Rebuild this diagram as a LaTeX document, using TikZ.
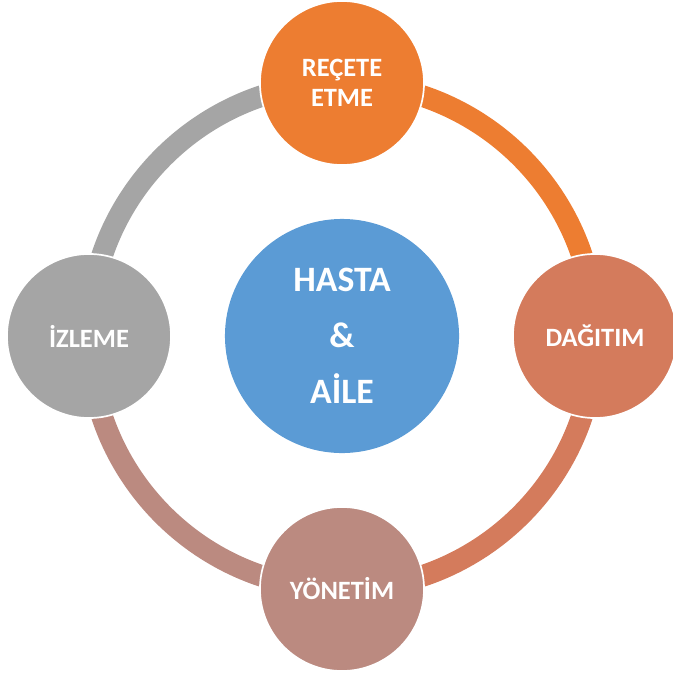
\documentclass[tikz,border=0pt]{standalone}
\usepackage{fontspec}
\setmainfont{Carlito}
\definecolor{hastablue}{HTML}{5B9BD5}
\definecolor{receteorange}{HTML}{ED7D31}
\definecolor{dagitimred}{HTML}{D47B5C}
\definecolor{yonetimrose}{HTML}{BB8A80}
\definecolor{izlemegray}{HTML}{A5A5A5}
\tikzset{
  stage/.style={circle,draw=white,line width=1.2pt,minimum size=4.1cm,inner sep=0pt,
    text=white,font=\bfseries\fontsize{18.8}{21.3}\selectfont,align=center},
  band/.style={line width=0.54cm}
}
\begin{document}
\begin{tikzpicture}[x=0.025cm,y=-0.025cm]
\useasboundingbox (0,0) rectangle (672,677);
\coordinate (top) at (342,83);
\coordinate (right) at (595,336);
\coordinate (bottom) at (342,589);
\coordinate (left) at (89,336);
% ring
\draw[band,receteorange] (top) arc[start angle=-90,end angle=0,radius=253];
\draw[band,dagitimred] (right) arc[start angle=0,end angle=90,radius=253];
\draw[band,yonetimrose] (bottom) arc[start angle=90,end angle=180,radius=253];
\draw[band,izlemegray] (left) arc[start angle=180,end angle=270,radius=253];
% center
\node[circle,fill=hastablue,minimum size=5.85cm,inner sep=0pt,text=white,align=center,
  font=\bfseries\fontsize{25.4}{39.8}\selectfont] (hasta) at (342,336) {HASTA\\\&\\AİLE};
% stages
\node[stage,fill=receteorange] (recete) at (top) {REÇETE\\ETME};
\node[stage,fill=dagitimred] (dagitim) at (right) {DAĞITIM};
\node[stage,fill=yonetimrose] (yonetim) at (bottom) {YÖNETİM};
\node[stage,fill=izlemegray] (izleme) at (left) {İZLEME};
\end{tikzpicture}
\end{document}
